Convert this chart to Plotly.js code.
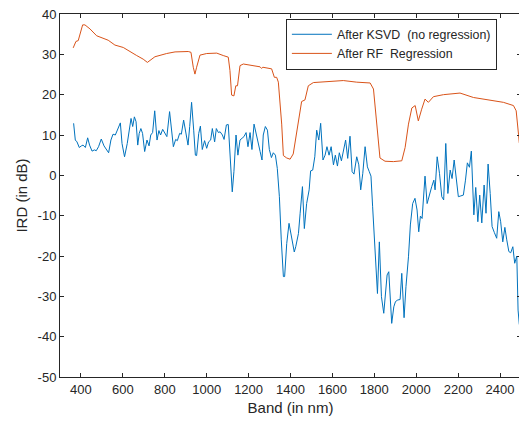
<!DOCTYPE html>
<html>
<head>
<meta charset="utf-8">
<script src="https://cdn.plot.ly/plotly-3.0.1.min.js"></script>
<style>
html,body{margin:0;padding:0;overflow:hidden;background:#fff;}
#chart{width:523px;height:425px;}
</style>
</head>
<body>
<div id="chart"></div>
<script>
// Blue: After KSVD (no regression)
const ksvdBand = [365,373,381,392,402,410,421,432,441,453,464,473,484,497,510,521,532,543,553,564,577,588,596,608,621,631,639,647,655,663,671,678,686,694,704,715,725,733,742,752,763,772,780,790,799,810,823,831,841,852,860,871,879,890,900,911,919,928,938,946,952,962,970,979,990,1000,1009,1019,1027,1038,1046,1056,1064,1075,1083,1094,1103,1111,1122,1130,1140,1149,1159,1169,1178,1188,1197,1207,1216,1226,1235,1245,1255,1264,1270,1280,1290,1299,1309,1318,1328,1337,1347,1356,1366,1372,1382,1393,1401,1410,1418,1425,1438,1446,1457,1466,1477,1489,1496,1506,1516,1525,1535,1544,1555,1565,1574,1584,1594,1605,1614,1624,1633,1643,1652,1663,1673,1684,1694,1703,1716,1726,1735,1745,1756,1767,1776,1784,1792,1804,1815,1824,1834,1845,1853,1861,1869,1875,1883,1893,1901,1912,1923,1931,1942,1951,1963,1972,1983,1994,2004,2012,2020,2028,2037,2042,2052,2063,2074,2084,2090,2100,2111,2122,2131,2141,2151,2162,2171,2181,2190,2201,2213,2225,2235,2244,2254,2263,2275,2284,2294,2303,2313,2324,2333,2343,2353,2362,2373,2384,2394,2403,2413,2423,2432,2442,2451,2461,2470,2480,2486,2492];
const ksvdIRD = [12.9,8.75,8.3,6.9,7.3,7.5,6.9,9.3,7.5,6.0,6.3,6.1,7.1,9.0,7.3,6.3,5.6,8.75,10.2,10.0,11.4,13.0,7.9,4.6,7.9,11.2,14.1,12.1,14.5,13.3,7.5,10.4,11.6,10.4,5.9,8.75,7.3,10.0,10.6,16.0,8.75,11.1,10.0,11.4,10.4,9.6,15.8,11.2,7.1,8.9,8.6,10.4,10.2,13.7,10.4,7.5,12.1,18.1,11.2,5.0,4.9,10.4,12.2,6.4,8.6,6.7,8.3,8.75,11.6,8.3,11.6,10.6,10.8,10.0,8.9,12.5,12.6,6.7,-4.1,0.9,10.0,5.0,8.75,9.2,9.6,10.6,7.1,10.6,6.4,12.7,10.8,7.9,5.9,3.8,10.0,12.1,11.2,6.4,4.4,5.6,5.0,1.7,-5.3,-16.0,-25.1,-25.1,-16.9,-11.9,-14.0,-17.0,-19.0,-17.7,-14.4,-9.4,-2.8,-13.2,-7.0,-3.6,1.1,1.3,4.6,11.2,8.75,12.9,3.8,5.0,7.1,5.0,7.1,2.6,5.0,2.3,5.6,3.6,6.3,8.75,4.2,9.7,0.9,0.3,4.6,2.6,-3.6,0.5,7.1,2.1,0.9,-0.2,-7.8,-18.5,-29.3,-16.5,-30.1,-34.2,-28.4,-24.7,-23.9,-30.1,-36.7,-32.6,-31.3,-30.9,-30.8,-24.3,-35.3,-27.6,-20.2,-12.3,-7.0,-5.7,-8.6,-14.0,-10.1,-10.7,-3.6,-0.2,-7.0,-4.5,-2.8,-1.2,-3.6,4.6,0.5,-5.3,-6.1,7.9,-4.5,1.3,-0.8,3.8,-0.8,-5.3,-5.1,-4.9,-1.2,3.1,2.0,6.0,-9.8,-3.0,-11.5,-4.9,-11.8,-2.4,-9.4,2.8,-4.5,-12.7,-14.2,-15.6,-9.0,-11.5,-16.5,-12.9,-16.0,-18.9,-19.2,-17.7,-21.8,-20.0,-33.4,-37.0];

// Orange: After RF Regression
const rfBand = [363,376,387,408,419,443,475,530,562,602,666,697,717,729,753,809,849,912,925,936,944,952,968,1000,1048,1079,1103,1111,1119,1130,1139,1147,1159,1175,1223,1255,1262,1268,1310,1323,1334,1342,1358,1366,1382,1398,1413,1437,1453,1469,1485,1509,1573,1652,1716,1780,1796,1812,1827,1851,1891,1931,1947,1963,1979,1995,2010,2026,2042,2058,2082,2130,2209,2273,2337,2416,2464,2477,2488,2492];
const rfIRD = [31.6,33.2,33.4,37.3,37.3,36.3,34.6,33.5,32.3,31.7,29.7,28.8,28.0,28.4,29.4,30.2,30.6,30.7,30.5,26.8,25.1,26.8,29.8,30.2,30.3,29.7,29.3,26.0,19.9,19.7,22.2,22.2,27.2,27.6,27.2,26.9,26.5,26.8,26.4,24.3,24.3,23.1,12.7,4.9,4.3,4.0,5.3,12.7,18.3,18.7,22.2,23.0,23.3,23.5,23.1,22.9,21.4,12.7,4.3,3.5,3.4,3.6,6.9,12.7,16.7,17.3,13.5,16.4,18.9,18.1,19.5,20.0,20.4,19.3,18.7,18.1,17.3,16.0,10.2,8.0];

const xTicks = [400,600,800,1000,1200,1400,1600,1800,2000,2200,2400];
const yTicks = [-50,-40,-30,-20,-10,0,10,20,30,40];

const axisColor = '#262626';
const traces = [
  {x: ksvdBand, y: ksvdIRD, type: 'scatter', mode: 'lines', name: 'After KSVD\u00A0 (no regression)',
   line: {color: '#0072BD', width: 1}},
  {x: rfBand, y: rfIRD, type: 'scatter', mode: 'lines', name: 'After RF\u00A0 Regression',
   line: {color: '#D95319', width: 1}}
];

const layout = {
  width: 523, height: 425,
  margin: {l: 60, r: 2, t: 14, b: 48},
  paper_bgcolor: '#fff', plot_bgcolor: '#fff',
  font: {family: 'Liberation Sans, Arial, sans-serif', size: 13, color: axisColor},
  showlegend: true,
  legend: {x: 0.49, y: 0.987, xanchor: 'left', yanchor: 'top',
    bgcolor: '#fff', bordercolor: axisColor, borderwidth: 1, itemwidth: 40,
    entrywidth: 224, entrywidthmode: 'pixels',
    font: {size: 12.4, color: axisColor}, tracegroupgap: 0},
  xaxis: {range: [300, 2500], tickvals: xTicks, ticktext: xTicks.map(String),
    ticks: 'inside', ticklen: 4, tickcolor: axisColor, showline: true, linecolor: axisColor, linewidth: 1,
    mirror: 'ticks', showgrid: false, zeroline: false,
    title: {text: 'Band (in nm)', font: {size: 15, color: axisColor}, standoff: 6}},
  yaxis: {range: [-50, 40], tickvals: yTicks, ticktext: yTicks.map(String),
    ticks: 'inside', ticklen: 4, tickcolor: axisColor, showline: true, linecolor: axisColor, linewidth: 1,
    mirror: 'ticks', showgrid: false, zeroline: false,
    title: {text: 'IRD (in dB)', font: {size: 15, color: axisColor}, standoff: 6}}
};

Plotly.newPlot('chart', traces, layout, {displayModeBar: false, staticPlot: true});
</script>
</body>
</html>
